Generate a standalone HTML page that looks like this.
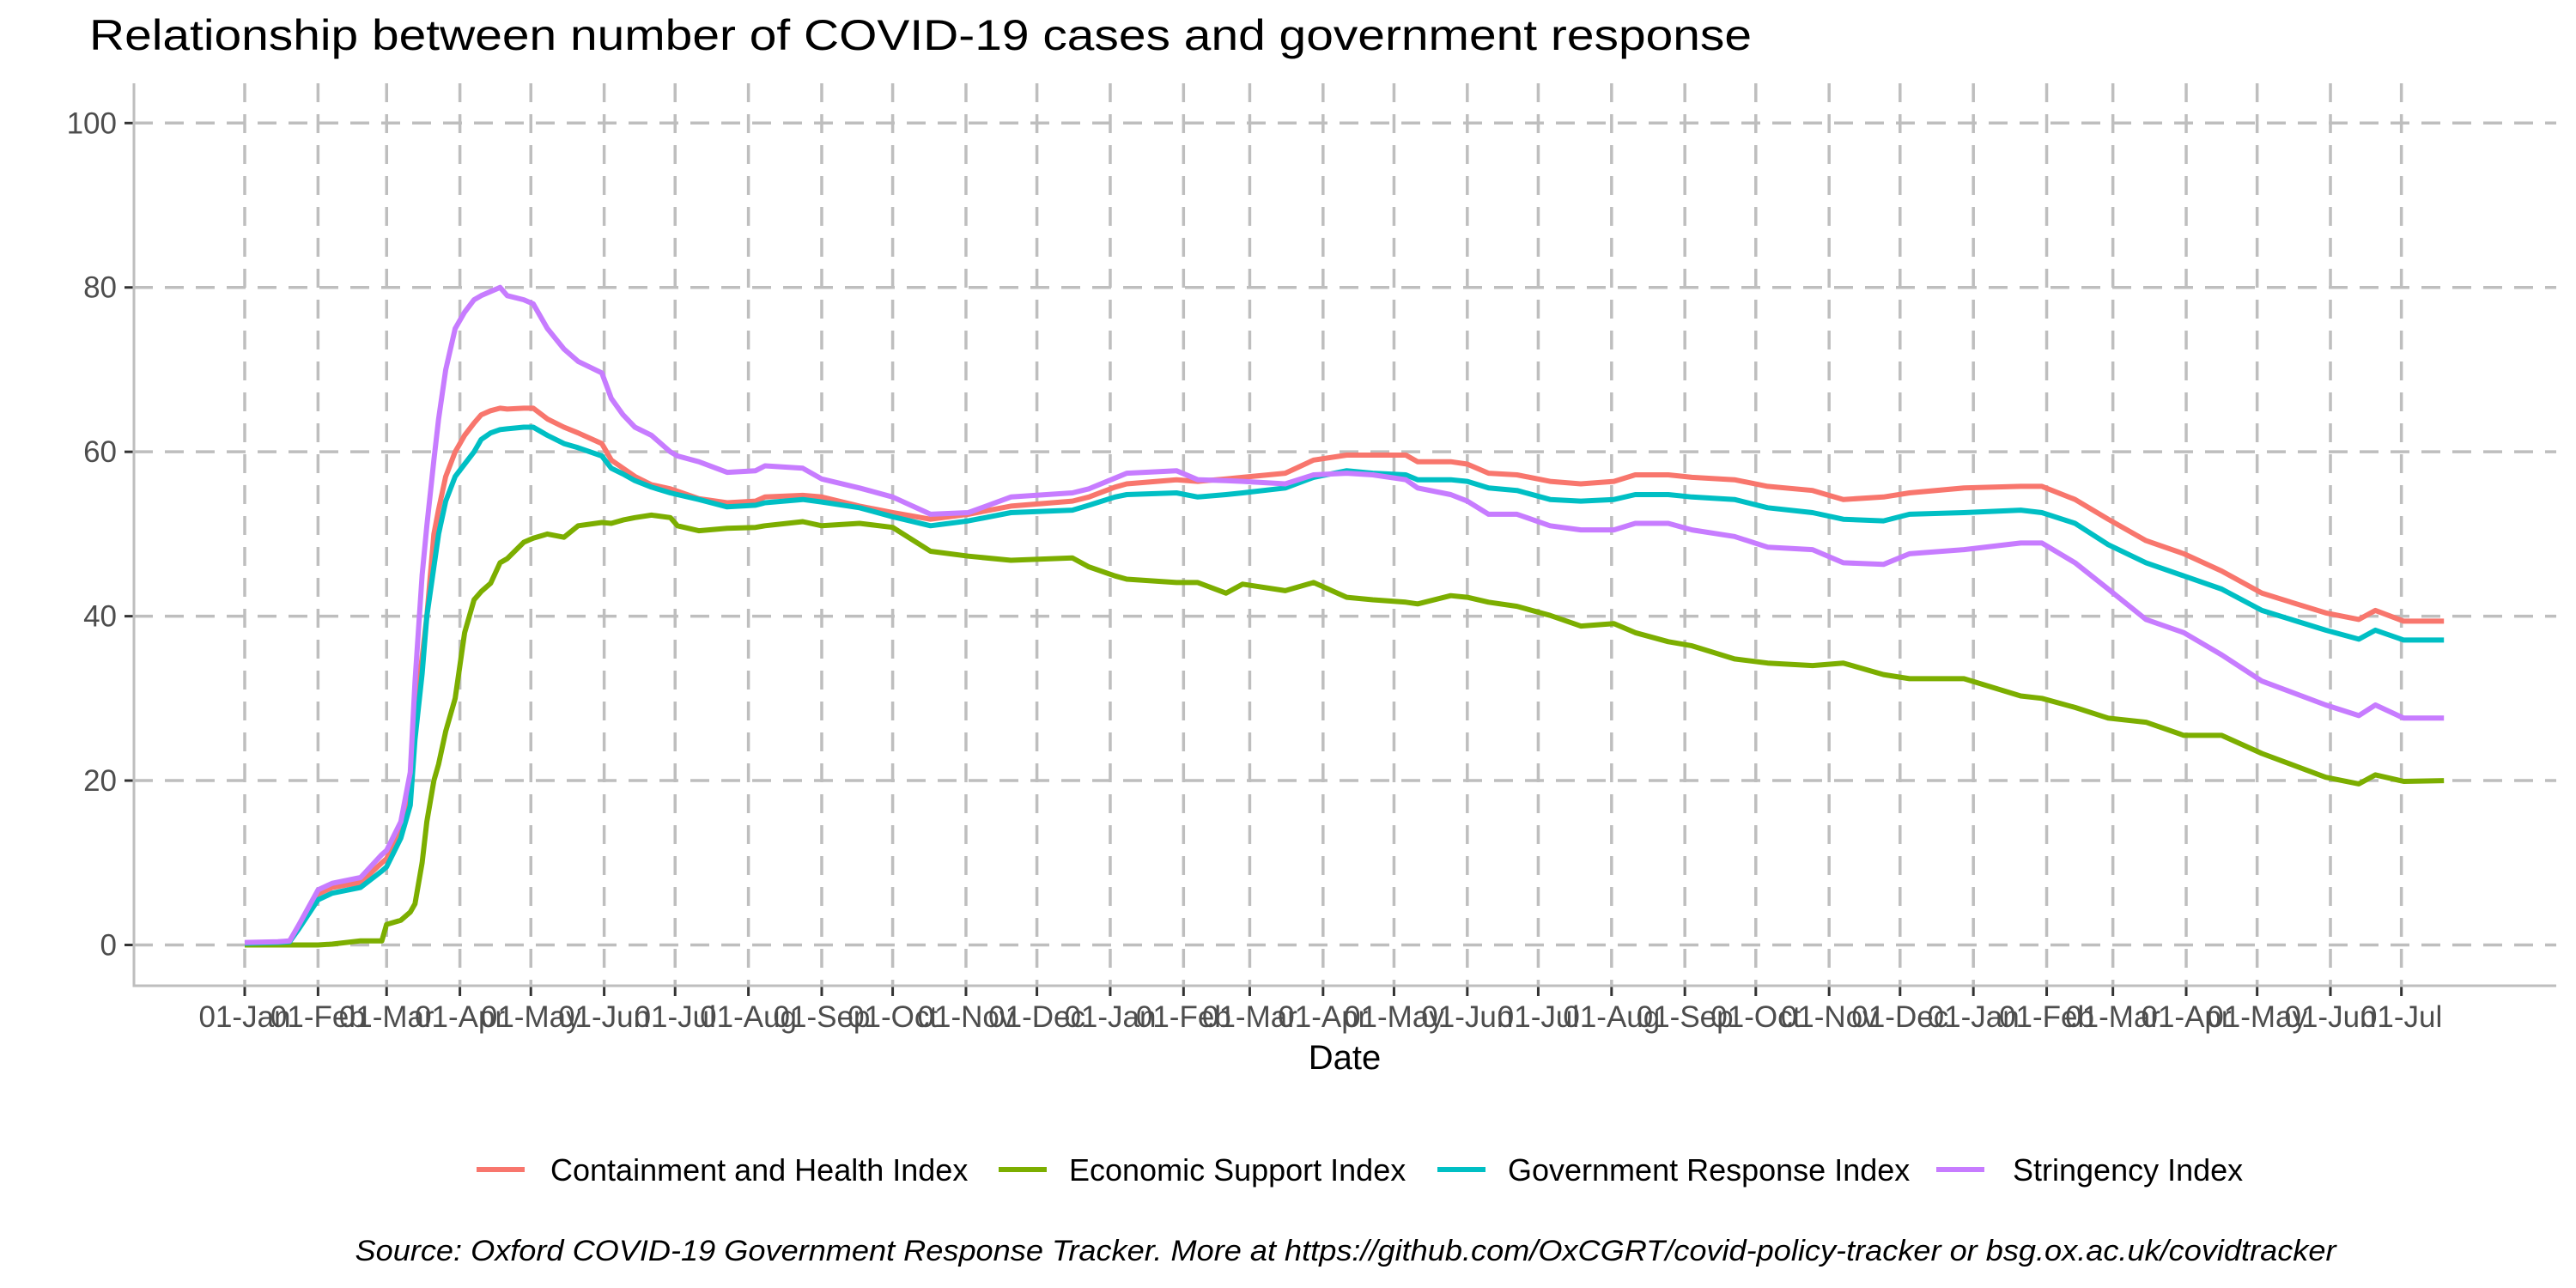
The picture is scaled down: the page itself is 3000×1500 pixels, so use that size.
<!DOCTYPE html>
<html><head><meta charset="utf-8"><style>
html,body{margin:0;padding:0;background:#fff;}
svg{display:block;font-family:"Liberation Sans",Arial,sans-serif;}
</style></head><body>
<svg id="chart" width="3000" height="1500" viewBox="0 0 3000 1500">
<rect width="3000" height="1500" fill="#fff"/>
<text x="104" y="58" font-size="50" fill="#000" textLength="1936" lengthAdjust="spacingAndGlyphs">Relationship between number of COVID-19 cases and government response</text>
<g id="grid"></g>
<g id="axes"></g>
<g id="series"></g>
<text x="1566" y="1245" font-size="40" text-anchor="middle" fill="#000">Date</text>
<g id="legend"></g>
<text x="1567" y="1468" font-size="34" font-style="italic" text-anchor="middle" fill="#000" textLength="2307" lengthAdjust="spacingAndGlyphs">Source: Oxford COVID-19 Government Response Tracker. More at https://github.com/OxCGRT/covid-policy-tracker or bsg.ox.ac.uk/covidtracker</text>
</svg>
<script>
const days=[0,14,19,23,31,37,49,58,60,66,70,72,75,77,80,82,85,89,93,97,100,104,108,111,118,122,128,135,141,151,155,160,165,172,180,183,192,204,216,220,236,244,260,274,290,306,324,350,357,368,373,394,403,415,422,440,452,466,477,491,496,510,517,526,538,552,565,579,588,602,612,630,644,663,676,693,704,727,751,760,774,788,804,820,836,853,880,894,901,913,930];
const containment=[0.2,0.3,0.5,2.3,6.2,7,7.6,10,10.5,14,19,28,35,40,50,53,57,60,62,63.5,64.5,65,65.3,65.2,65.3,65.3,64,63,62.3,61,59,58,57,56,55.5,55.2,54.3,53.8,54,54.5,54.7,54.5,53.4,52.6,51.8,52.4,53.4,54,54.5,55.7,56.1,56.6,56.4,56.7,56.9,57.4,59,59.6,59.6,59.6,58.8,58.8,58.5,57.4,57.2,56.4,56.1,56.4,57.2,57.2,56.9,56.6,55.8,55.3,54.2,54.5,55,55.6,55.8,55.8,54.2,51.8,49.2,47.6,45.5,42.8,40.4,39.6,40.7,39.4,39.4];
const economic=[0,0,0,0,0,0.1,0.5,0.5,2.5,3,4,5,10,15,20,22,26,30,38,42,43,44,46.5,47,49,49.5,50,49.6,51,51.4,51.3,51.7,52,52.3,52,51,50.4,50.7,50.8,51,51.5,51,51.3,50.8,47.9,47.3,46.8,47.1,46,44.9,44.5,44.1,44.1,42.8,43.9,43.1,44.1,42.3,42,41.7,41.5,42.5,42.3,41.7,41.2,40.1,38.8,39.1,38,36.9,36.4,34.8,34.3,34,34.3,32.9,32.4,32.4,30.3,30,28.9,27.6,27.1,25.5,25.5,23.3,20.4,19.6,20.7,19.9,20];
const government=[0.2,0.3,0.4,2,5.5,6.3,7,9,9.5,13,17,25,33,40,46,50,54,57,58.5,60,61.5,62.3,62.7,62.8,63,63,62,61,60.5,59.5,58,57.3,56.5,55.7,55,54.8,54.2,53.3,53.5,53.8,54.2,53.9,53.2,52.1,51,51.6,52.6,52.9,53.5,54.5,54.8,55,54.5,54.8,55,55.6,56.9,57.7,57.4,57.2,56.6,56.6,56.4,55.6,55.3,54.2,54,54.2,54.8,54.8,54.5,54.2,53.2,52.6,51.8,51.6,52.4,52.6,52.9,52.6,51.3,48.7,46.5,44.9,43.3,40.7,38.3,37.2,38.3,37.1,37.1];
const stringency=[0.3,0.4,0.5,2.5,6.7,7.5,8.2,11,11.5,15,21,32,45,51,59,64,70,75,77,78.5,79,79.5,80,79,78.5,78,75,72.5,71,69.6,66.5,64.5,63,62,60,59.5,58.8,57.5,57.7,58.3,58,56.7,55.6,54.5,52.4,52.6,54.5,55,55.5,56.8,57.4,57.7,56.6,56.5,56.4,56.1,57.2,57.4,57.2,56.6,55.6,54.8,54,52.4,52.4,51,50.5,50.5,51.3,51.3,50.5,49.7,48.4,48.1,46.5,46.3,47.6,48.1,48.9,48.9,46.5,43.3,39.6,38,35.3,32.1,29.2,27.9,29.2,27.6,27.6];
const tickDays=[0,31,60,91,121,152,182,213,244,274,305,335,366,397,425,456,486,517,547,578,609,639,670,700,731,762,790,821,851,882,912];
const tickLabels=["01-Jan","01-Feb","01-Mar","01-Apr","01-May","01-Jun","01-Jul","01-Aug","01-Sep","01-Oct","01-Nov","01-Dec","01-Jan","01-Feb","01-Mar","01-Apr","01-May","01-Jun","01-Jul","01-Aug","01-Sep","01-Oct","01-Nov","01-Dec","01-Jan","01-Feb","01-Mar","01-Apr","01-May","01-Jun","01-Jul"];
const yTicks=[0,20,40,60,80,100];
const seriesNames=["Containment and Health Index","Economic Support Index","Government Response Index","Stringency Index"];

const NS="http://www.w3.org/2000/svg";
const X0=285, PXD=2.754, Y0=1100.5, PXV=9.572;
const PL=156, PR=2977, PT=97, PB=1148;
function xs(d){return X0+d*PXD;}
function ys(v){return Y0-v*PXV;}
function mk(tag,attrs,parent){const e=document.createElementNS(NS,tag);for(const k in attrs)e.setAttribute(k,attrs[k]);parent.appendChild(e);return e;}
const grid=document.getElementById('grid'),axes=document.getElementById('axes'),ser=document.getElementById('series'),leg=document.getElementById('legend');
yTicks.forEach(v=>{
  const l=mk('line',{x1:PL,x2:PR,y1:ys(v),y2:ys(v),stroke:'#bebebe','stroke-width':3.5,'stroke-dasharray':'22,14'},grid);
  
  
  const t=mk('line',{x1:145,x2:PL,y1:ys(v),y2:ys(v),stroke:'#333','stroke-width':3},axes);
  
  
  const tx=mk('text',{x:136,y:ys(v)+12,'font-size':35,'text-anchor':'end',fill:'#4d4d4d'},axes);
  tx.textContent=v;
  
  
});
tickDays.forEach((d,i)=>{
  const x=xs(d);
  const l=mk('line',{x1:x,x2:x,y1:PT,y2:PB,stroke:'#bebebe','stroke-width':3.5,'stroke-dasharray':'22,14'},grid);
  
  
  const t=mk('line',{x1:x,x2:x,y1:PB,y2:PB+12,stroke:'#333','stroke-width':3},axes);
  
  
  const tx=mk('text',{x:x,y:1196,'font-size':35,'text-anchor':'middle',fill:'#4d4d4d'},axes);
  tx.textContent=tickLabels[i];
  
  
});
const ya=mk('line',{x1:PL,x2:PL,y1:PT,y2:PB+1.5,stroke:'#bebebe','stroke-width':3},axes);


const xa=mk('line',{x1:PL,x2:PR,y1:PB,y2:PB,stroke:'#bebebe','stroke-width':3},axes);


const colors=['#F8766D','#7CAE00','#00BFC4','#C77CFF'];
const data=[containment,economic,government,stringency];
const snames=['containment-health-line','economic-support-line','government-response-line','stringency-line'];
data.forEach((vals,k)=>{
  const p=days.map((d,i)=>(i?'L':'M')+xs(d).toFixed(1)+','+ys(vals[i]).toFixed(1)).join(' ');
  const path=mk('path',{d:p,fill:'none',stroke:colors[k],'stroke-width':6,'stroke-linejoin':'round','stroke-linecap':'butt'},ser);
  
  
});
const legLine=[555,1163,1674,2255], legText=[641,1245,1756,2344];
seriesNames.forEach((n,k)=>{
  const l=mk('line',{x1:legLine[k],x2:legLine[k]+56,y1:1362,y2:1362,stroke:colors[k],'stroke-width':6},leg);
  
  
  const t=mk('text',{x:legText[k],y:1375,'font-size':36,fill:'#000'},leg);
  t.textContent=n;
  
  
});
</script>
</body></html>
